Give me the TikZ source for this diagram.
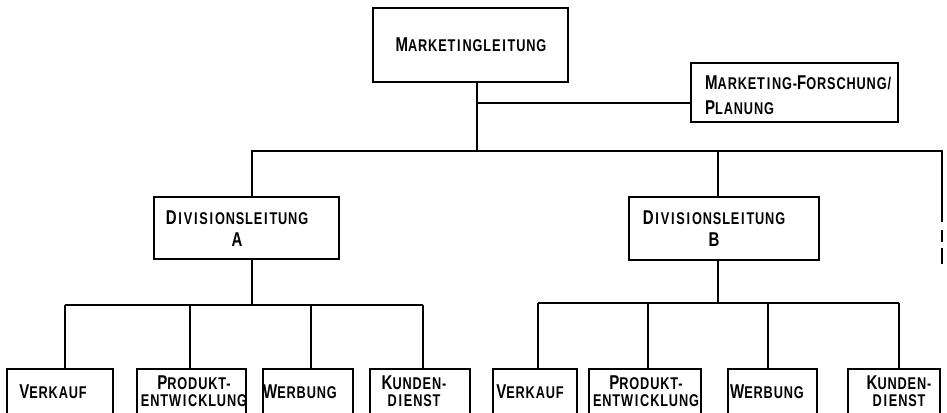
\documentclass[tikz,border=0pt]{standalone}
\usepackage{fontspec}
\setmainfont{Liberation Sans}[FakeStretch=0.75,LetterSpace=5]
\newcommand\bigc[1]{{\fontsize{20}{23}\selectfont #1}}
\newcommand\ii{\kern1.8pt I\kern1.8pt}
\begin{document}
\begin{tikzpicture}[x=1pt,y=-1pt,
  box/.style={draw, line width=1.8pt, inner sep=0pt},
  lbl/.style={inner sep=0pt, font=\fontsize{17}{17}\selectfont\bfseries, align=center},
  conn/.style={line width=1.8pt}]
\fill[white] (0,0) rectangle (947,412);
\clip (0,0) rectangle (947,412);
% boxes
\node[box, minimum width=195pt, minimum height=74pt] (ml) at (470.5,45) {};
\node[box, minimum width=207pt, minimum height=59pt] (st) at (794.5,92.5) {};
\node[box, minimum width=185pt, minimum height=62pt] (dA) at (246.5,228) {};
\node[box, minimum width=190pt, minimum height=63pt] (dB) at (724,228.5) {};
\node[box, minimum width=106pt, minimum height=61pt] (a1) at (60,399.5) {};
\node[box, minimum width=109pt, minimum height=61pt] (a2) at (191.5,399.5) {};
\node[box, minimum width=90pt, minimum height=61pt] (a3) at (308,399.5) {};
\node[box, minimum width=100pt, minimum height=61pt] (a4) at (420,399.5) {};
\node[box, minimum width=84pt, minimum height=61pt] (b1) at (535,399.5) {};
\node[box, minimum width=112pt, minimum height=61pt] (b2) at (645,399.5) {};
\node[box, minimum width=89pt, minimum height=61pt] (b3) at (772.5,399.5) {};
\node[box, minimum width=92pt, minimum height=61pt] (b4) at (894,399.5) {};
% texts
\node[lbl] (tml) at (471,45) {\bigc{M}ARKET\ii NGLE\ii TUNG};
\node[lbl, anchor=west, align=left, font=\fontsize{17}{25}\selectfont\bfseries] (tst) at (705,95.5) {\bigc{M}ARKET\ii NG-\bigc{F}ORSCHUNG/\\\bigc{P}LANUNG};
\node[lbl, font=\fontsize{17}{22}\selectfont\bfseries] (tdA) at (237,229) {\bigc{D}\ii V\ii S\ii ONSLE\ii TUNG\\\bigc{A}};
\node[lbl, font=\fontsize{17}{22}\selectfont\bfseries] (tdB) at (714,229) {\bigc{D}\ii V\ii S\ii ONSLE\ii TUNG\\\bigc{B}};
\node[lbl] (ta1) at (53,392) {\bigc{V}ERKAUF};
\node[lbl] (ta2) at (194,391.5) {\bigc{P}RODUKT-\\ENTW\ii CKLUNG};
\node[lbl] (ta3) at (300,392) {\bigc{W}ERBUNG};
\node[lbl] (ta4) at (414,391.5) {\bigc{K}UNDEN-\\D\ii ENST};
\node[lbl] (tb1) at (530,392) {\bigc{V}ERKAUF};
\node[lbl] (tb2) at (646,391.5) {\bigc{P}RODUKT-\\ENTW\ii CKLUNG};
\node[lbl] (tb3) at (767,392) {\bigc{W}ERBUNG};
\node[lbl] (tb4) at (899,391.5) {\bigc{K}UNDEN-\\D\ii ENST};
% junction coordinates
\coordinate (j0) at (477,151);
\coordinate (sj) at (477,103);
\coordinate (jA) at (252,151);
\coordinate (jB) at (718,151);
\coordinate (jR) at (942,151);
\coordinate (kA) at (252,305);
\coordinate (kB) at (718,303);
\coordinate (xa1) at (65,305);
\coordinate (xa2) at (190,305);
\coordinate (xa3) at (311,305);
\coordinate (xa4) at (423,305);
\coordinate (xb1) at (538,303);
\coordinate (xb2) at (648,303);
\coordinate (xb3) at (768,303);
\coordinate (xb4) at (899,303);
% connectors
\draw[conn] (ml.south -| j0) -- (j0);
\draw[conn] (sj) -- (sj -| st.west);
\draw[conn] (jA |- dA.north) -- (jA) -- (jR) -- ++(0,71);
\draw[conn] (942,230) -- (942,242);
\draw[conn] (942,248) -- (942,264);
\draw[conn] (jB) -- (jB |- dB.north);
\draw[conn] (dA.south -| kA) -- (kA);
\draw[conn] (dB.south -| kB) -- (kB);
\draw[conn] (xa1) -- (xa4);
\draw[conn] (xb1) -- (xb4);
\foreach \c/\b in {xa1/a1,xa2/a2,xa3/a3,xa4/a4,xb1/b1,xb2/b2,xb3/b3,xb4/b4}
  \draw[conn] (\c) -- (\c |- \b.north);
\end{tikzpicture}
\end{document}
